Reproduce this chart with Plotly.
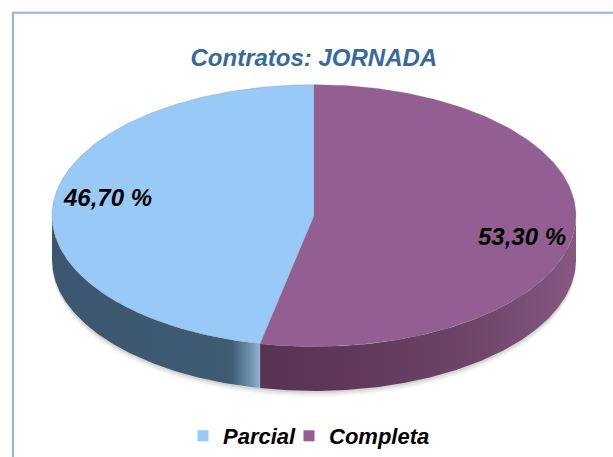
import numpy as np
import plotly.graph_objects as go

# ---- data ----
categories = ["Parcial", "Completa"]
values = [46.70, 53.30]
title_text = "Contratos: JORNADA"

# ---- styles ----
top_colors = {"Parcial": "#99c9f7", "Completa": "#935f92"}
legend_widths = {"Parcial": 61, "Completa": 112}
side_scales = {
    "Parcial": [[0.0, "rgb(60,86,111)"], [0.86, "rgb(64,91,116)"],
                [0.95, "rgb(108,143,174)"], [1.0, "rgb(148,180,206)"]],
    "Completa": [[0.0, "rgb(88,50,82)"], [0.35, "rgb(97,58,92)"],
                 [0.7, "rgb(112,70,107)"], [1.0, "rgb(134,88,130)"]],
}
FONT = "Liberation Sans, Arial, sans-serif"

W, H = 613, 457
cx, cy, rx, ry, depth = 314, 219, 262, 133, 45


def ex(t):
    return cx + rx * np.sin(np.radians(t))


def ey(t):
    return cy - ry * np.cos(np.radians(t))


# slice angles (clockwise from 12 o'clock): Completa first, then Parcial
total = sum(values)
order = ["Completa", "Parcial"]
spans = {}
a = 0.0
for name in order:
    v = values[categories.index(name)]
    spans[name] = (a, a + 360.0 * v / total)
    a += 360.0 * v / total

fig = go.Figure()

# soft shadow under the pie
for k, alpha in [(6, 0.04), (4, 0.06), (2, 0.08)]:
    t = np.linspace(90, 270, 120)
    xs = np.concatenate([ex(t), ex(t[::-1])])
    ys = np.concatenate([ey(t) + depth - 2, ey(t[::-1]) + depth + k])
    fig.add_trace(go.Scatter(x=xs, y=ys, fill="toself", mode="lines",
                             line=dict(width=0), fillcolor=f"rgba(0,0,0,{alpha})",
                             hoverinfo="skip", showlegend=False))

# side walls (front-visible part, angles 90..270) with horizontal gradient
for name in order:
    a0, a1 = spans[name]
    lo, hi = max(a0, 90.0), min(a1, 270.0)
    if hi <= lo:
        continue
    t = np.linspace(lo, hi, 200)
    xs = np.concatenate([ex(t), ex(t[::-1])])
    ys = np.concatenate([ey(t), ey(t[::-1]) + depth])
    split_x = float(ex(spans["Completa"][1]))
    if name == "Parcial":
        start, stop = float(ex(270.0)), split_x
    else:
        start, stop = split_x, float(ex(90.0))
    fig.add_trace(go.Scatter(x=xs, y=ys, fill="toself", mode="lines",
                             line=dict(width=0),
                             fillgradient=dict(type="horizontal", colorscale=side_scales[name],
                                               start=start, stop=stop),
                             hoverinfo="skip", showlegend=False))

# top faces
for name in order:
    a0, a1 = spans[name]
    t = np.linspace(a0, a1, 200)
    xs = np.concatenate([[cx], ex(t), [cx]])
    ys = np.concatenate([[cy], ey(t), [cy]])
    fig.add_trace(go.Scatter(x=xs, y=ys, fill="toself", mode="lines",
                             line=dict(width=0.6, color="rgba(120,120,120,0.45)"),
                             fillcolor=top_colors[name],
                             hoverinfo="skip", showlegend=False))

# legend entries
for name in categories:
    fig.add_trace(go.Scatter(x=[None], y=[None], mode="markers", name=name,
                             legendwidth=legend_widths[name],
                             marker=dict(symbol="square", size=11, color=top_colors[name])))

# data labels
label_pos = {"Parcial": (107, 201), "Completa": (522, 240)}
for name in categories:
    v = values[categories.index(name)]
    txt = f"{v:.2f} %".replace(".", ",")
    x, y = label_pos[name]
    fig.add_annotation(x=x, y=y, xref="x", yref="y", text=txt, showarrow=False,
                       font=dict(family=FONT, size=24, color="black",
                                 weight="bold", style="italic"))

fig.update_layout(
    width=W, height=H,
    margin=dict(l=0, r=0, t=0, b=0),
    paper_bgcolor="white", plot_bgcolor="white",
    xaxis=dict(range=[0, W], visible=False, fixedrange=True),
    yaxis=dict(range=[H, 0], visible=False, fixedrange=True),
    title=dict(text=title_text, x=0.512, xanchor="center", y=1 - 58 / H, yanchor="middle",
               font=dict(family=FONT, size=24, color="#3868a0", weight="bold", style="italic")),
    legend=dict(orientation="h", x=183 / W, xanchor="left", y=1 - 443 / H, yanchor="middle",
                font=dict(family=FONT, size=22, color="black", weight="bold", style="italic"),
                itemsizing="trace", bgcolor="rgba(0,0,0,0)"),
    shapes=[dict(type="rect", xref="paper", yref="paper",
                 x0=13 / W, x1=1.05, y0=-0.05, y1=1 - 13 / H,
                 line=dict(color="#95b3d7", width=2), fillcolor="rgba(0,0,0,0)",
                 layer="below")],
    showlegend=True,
)

fig.write_html("out.html", config={"displayModeBar": False},
               post_script="document.body.style.margin='0';document.body.style.overflow='hidden';")
